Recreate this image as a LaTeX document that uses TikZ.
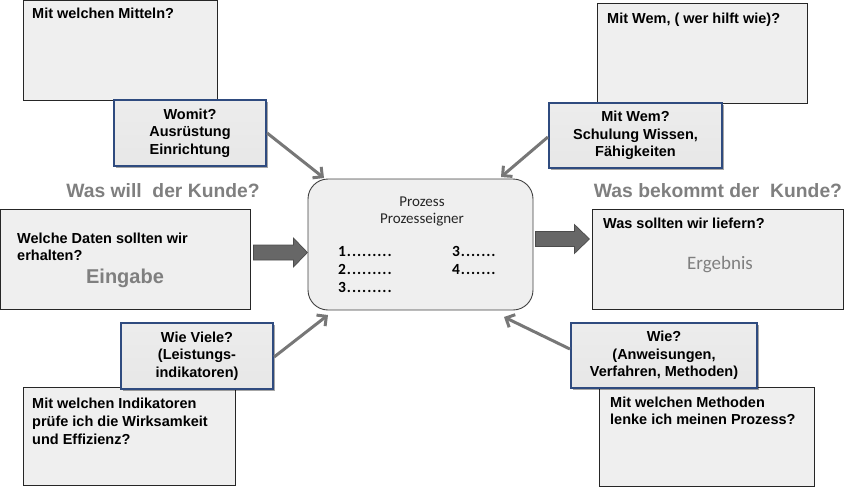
\documentclass[tikz,border=0pt]{standalone}
\usepackage{fontspec}
\setmainfont{Liberation Sans}
\newfontfamily\calfont{Carlito}
\newfontfamily\calspaced[LetterSpace=6]{Carlito}
\usetikzlibrary{arrows.meta,shadows,calc}
\definecolor{boxfill}{HTML}{EFEFEF}
\definecolor{navyb}{HTML}{2F4B7F}
\definecolor{headgray}{HTML}{7F7F7F}
\definecolor{arrgray}{HTML}{777777}
\definecolor{fatgray}{HTML}{676767}
\pgfdeclareverticalshading{bluesh}{100bp}{color(0bp)=(black!30); color(9bp)=(white!90!black); color(85bp)=(white!93!black); color(100bp)=(white!97!black)}
\newcommand\qfont{\fontsize{14.5}{17.5}\selectfont\bfseries}
\newcommand\hfont{\fontsize{19.3}{22}\selectfont\bfseries}
\newcommand\nfont{\calspaced\bfseries\fontsize{15.5}{18}\selectfont}
\begin{document}
\begin{tikzpicture}[x=1pt,y=-1pt,
  graybox/.style={draw=black!85,line width=0.9pt,fill=boxfill,inner sep=0pt,rectangle},
  bluebox/.style={draw=navyb,line width=2.2pt,shading=bluesh,
     inner sep=0pt,align=center,font=\qfont,
     drop shadow={shadow xshift=2pt,shadow yshift=-2pt,opacity=0.35,fill=black}},
  qtext/.style={font=\qfont,inner sep=0pt,anchor=base west},
  headtext/.style={font=\hfont,text=headgray,inner sep=0pt,anchor=base},
  numtext/.style={font=\nfont,inner sep=0pt,anchor=base west},
  proctext/.style={font=\calfont\fontsize{15}{18}\selectfont,text=black!85,inner sep=0pt,anchor=base},
  thinarrow/.style={draw=arrgray,line width=3pt,-{Straight Barb[length=7pt,width=14pt]}},
  fatarrow/.style={fill=fatgray,draw=black!70,line width=0.7pt,line join=miter}
]
\useasboundingbox (0,0) rectangle (857,488);

% grey question boxes
\node[graybox,minimum width=194pt,minimum height=99.5pt] (mm) at (120,50.25) {};
\node[qtext] (mmt) at (32,18) {Mit welchen Mitteln?};

\node[graybox,minimum width=210pt,minimum height=100pt] (mw) at (702,53) {};
\node[qtext] (mwt) at (607,23) {Mit Wem, ( wer hilft wie)?};

\node[graybox,minimum width=249.5pt,minimum height=100pt] (ein) at (125.25,259) {};
\node[qtext] (eint1) at (17,243) {Welche Daten sollten wir};
\node[qtext] (eint2) at (17,260.5) {erhalten?};
\node[font=\fontsize{20}{24}\selectfont\bfseries,text=headgray,inner sep=0pt,anchor=base] (eing) at (125,283) {Eingabe};

\node[graybox,minimum width=251pt,minimum height=100pt] (erg) at (717.5,259) {};
\node[qtext] (ergt) at (603,228) {Was sollten wir liefern?};
\node[font=\calfont\fontsize{19}{22}\selectfont,text=headgray,inner sep=0pt,anchor=base] (ergb) at (720,269) {Ergebnis};

\node[graybox,minimum width=212pt,minimum height=98pt] (ind) at (129,436) {};
\node[qtext] (indt1) at (32,408) {Mit welchen Indikatoren};
\node[qtext] (indt2) at (32,426) {prüfe ich die Wirksamkeit};
\node[qtext] (indt3) at (32,444) {und Effizienz?};

\node[graybox,minimum width=215pt,minimum height=99pt] (met) at (706.5,436.5) {};
\node[qtext] (mett1) at (610,407) {Mit welchen Methoden};
\node[qtext] (mett2) at (610,424.5) {lenke ich meinen Prozess?};

% headings
\node[headtext] (h1) at (163,197) {Was will\ \ der Kunde?};
\node[headtext] (h2) at (718,197) {Was bekommt der\ \ Kunde?};

% process box
\node[draw=black!75,line width=0.9pt,fill=boxfill,rounded corners=20pt,minimum width=225pt,minimum height=131pt,inner sep=0pt] (proc) at (420.5,244.5) {};
\node[proctext] (p1) at (422,206) {Prozess};
\node[proctext] (p2) at (422,223) {Prozesseigner};
\node[numtext] (n1) at (338,256) {1.........};
\node[numtext] (n2) at (338,274) {2.........};
\node[numtext] (n3) at (338,292) {3.........};
\node[numtext] (n4) at (452,256) {3.......};
\node[numtext] (n5) at (452,274) {4.......};

% blue boxes
\node[bluebox,minimum width=152pt,minimum height=66pt] (womit) at (190,133) {Womit?\\Ausrüstung\\Einrichtung};
\node[bluebox,minimum width=173pt,minimum height=65pt] (wem) at (635.5,135.5) {Mit Wem?\\Schulung Wissen,\\Fähigkeiten};
\node[bluebox,minimum width=152pt,minimum height=66pt] (viele) at (197,356) {Wie Viele?\\(Leistungs-\\indikatoren)};
\node[bluebox,minimum width=186pt,minimum height=65pt] (wie) at (664,355.5) {Wie?\\(Anweisungen,\\Verfahren, Methoden)};

% thin arrows
\coordinate (t1) at (324,178);
\coordinate (t2) at (501,177);
\coordinate (t3) at (328,315);
\coordinate (t4) at (504,317);
\draw[thinarrow] (womit.east) -- (t1);
\draw[thinarrow] ($(wem.west)+(0,1.5)$) -- (t2);
\draw[thinarrow] ($(viele.east)+(0,1)$) -- (t3);
\draw[thinarrow] ($(wie.west)+(0,-6.5)$) -- (t4);

% fat arrows
\draw[fatarrow] ($(ein.east)+(3,-14)$) -- ++(40,0) -- ++(0,-7) -- ++(14,14.5) -- ++(-14,14.5) -- ++(0,-7) -- ++(-40,0) -- cycle;
\draw[fatarrow] ($(proc.east)+(2,-13)$) -- ++(39,0) -- ++(0,-7) -- ++(15,14.5) -- ++(-15,14.5) -- ++(0,-7) -- ++(-39,0) -- cycle;
\end{tikzpicture}
\end{document}
